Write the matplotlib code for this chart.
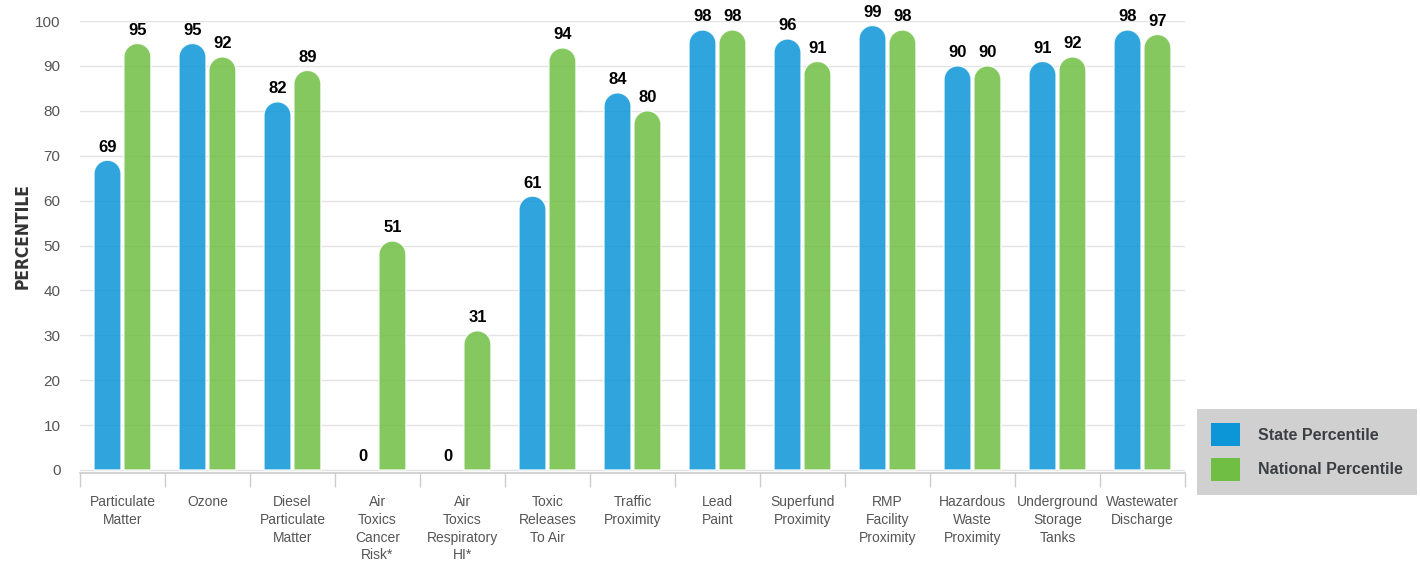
import numpy as np
import matplotlib
matplotlib.use("Agg")
import matplotlib.pyplot as plt
from matplotlib.path import Path
from matplotlib.patches import PathPatch, Patch

categories = ["Particulate\nMatter", "Ozone", "Diesel\nParticulate\nMatter",
              "Air\nToxics\nCancer\nRisk*", "Air\nToxics\nRespiratory\nHI*",
              "Toxic\nReleases\nTo Air", "Traffic\nProximity", "Lead\nPaint",
              "Superfund\nProximity", "RMP\nFacility\nProximity",
              "Hazardous\nWaste\nProximity", "Underground\nStorage\nTanks",
              "Wastewater\nDischarge"]
state = [69, 95, 82, 0, 0, 61, 84, 98, 96, 99, 90, 91, 98]
national = [95, 92, 89, 51, 31, 94, 80, 98, 91, 98, 90, 92, 97]
yticks = [0, 10, 20, 30, 40, 50, 60, 70, 80, 90, 100]

BLUE = "#0c95d7"
GREEN = "#70bf44"

plt.rcParams['font.family'] = ['Liberation Sans', 'DejaVu Sans']

fig = plt.figure(figsize=(14.2, 5.68), dpi=100)
ax = fig.add_axes([0.0563, 0.1678, 0.7782, 0.7952])
ax.set_xlim(-0.5, len(categories) - 0.5)
ax.set_ylim(-0.6, 100)

# pixel scale to keep the bar caps round
p0 = ax.transData.transform((0, 0))
p1 = ax.transData.transform((1, 1))
sx, sy = p1[0] - p0[0], p1[1] - p0[1]

width = 0.318
offset = 0.176


def rounded_bar(xc, h, color):
    if h <= 0:
        return
    rx = width / 2
    ry = rx * sx / sy
    base = max(h - ry, 0)
    t = np.linspace(np.pi, 0, 40)
    xs = np.concatenate([[xc - rx, xc - rx], xc + rx * np.cos(t), [xc + rx, xc - rx]])
    ys = np.concatenate([[0, base], base + min(ry, h) * np.sin(t), [0, 0]])
    verts = np.column_stack([xs, ys])
    codes = [Path.MOVETO] + [Path.LINETO] * (len(verts) - 2) + [Path.CLOSEPOLY]
    ax.add_patch(PathPatch(Path(verts, codes), facecolor=color, alpha=0.85,
                           edgecolor="white", linewidth=1, zorder=3))


for i in range(len(categories)):
    for val, dx, col in [(state[i], -offset, BLUE), (national[i], offset, GREEN)]:
        rounded_bar(i + dx, val, col)
        ax.annotate(str(val), (i + dx, val), xytext=(0, 4), textcoords="offset points",
                    ha="center", va="bottom", fontsize=12, fontweight="bold",
                    color="black", zorder=4)

ax.set_yticks(yticks)
ax.tick_params(axis="y", length=0, labelsize=11, labelcolor="#555555", pad=14)
ax.grid(axis="y", color="#e3e3e3", linewidth=1, zorder=0)
ax.set_axisbelow(True)

ax.set_xticks(range(len(categories)))
ax.set_xticklabels(categories, fontsize=10, color="#555555", linespacing=1.35)
ax.tick_params(axis="x", which="major", length=0, pad=16)
ax.set_xticks(np.arange(-0.5, len(categories)), minor=True)
ax.tick_params(axis="x", which="minor", length=10, color="#cccccc", width=1)

for s in ["top", "right", "left"]:
    ax.spines[s].set_visible(False)
ax.spines["bottom"].set_color("#cccccc")
ax.spines["bottom"].set_linewidth(1.2)

ax.set_ylabel("PERCENTILE", fontsize=12.5, fontweight="bold", color="#333333",
              family="DejaVu Sans", fontstretch="condensed")
ax.yaxis.set_label_coords(-0.044, 0.524)

handles = [Patch(facecolor=BLUE, label="State Percentile"),
           Patch(facecolor=GREEN, label="National Percentile")]
leg = fig.legend(handles=handles, loc="upper left", bbox_to_anchor=(1197 / 1420, 1 - 409 / 568),
                 frameon=True, fancybox=False, facecolor="#d0d0d0", edgecolor="none",
                 framealpha=1, handlelength=1.8, handleheight=1.8, handletextpad=1.1,
                 labelspacing=0.75, borderpad=0.9, borderaxespad=0,
                 prop={"size": 11.5, "weight": "bold"}, labelcolor="#3a3f42")

fig.savefig("out.png", dpi=100)
